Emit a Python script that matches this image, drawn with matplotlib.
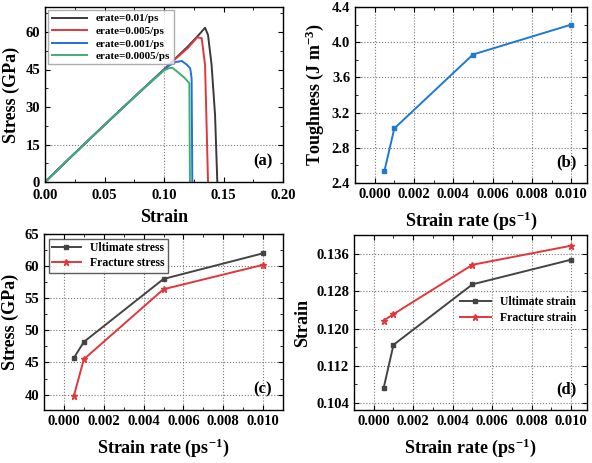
import matplotlib
matplotlib.use("Agg")
import matplotlib.pyplot as plt
from matplotlib.ticker import AutoMinorLocator

# -------------------------------
# Data
# -------------------------------
# (a) stress-strain curves
strain_001 = [0, 0.02, 0.04, 0.06, 0.08, 0.10, 0.11, 0.12, 0.128, 0.1345, 0.137, 0.140, 0.1429, 0.1448]
stress_001 = [0, 9.2, 18.3, 27.3, 36.2, 45.0, 49.6, 54.2, 58.2, 61.7, 58.8, 46.8, 26.8, 0]

strain_0005 = [0, 0.02, 0.04, 0.06, 0.08, 0.10, 0.11, 0.12, 0.128, 0.1317, 0.1345, 0.137]
stress_0005 = [0, 9.2, 18.3, 27.3, 36.2, 45.0, 49.4, 53.6, 57.9, 57.5, 46.8, 0]

strain_0001 = [0, 0.02, 0.04, 0.06, 0.08, 0.10, 0.105, 0.11, 0.115, 0.119, 0.122, 0.1232, 0.1238]
stress_0001 = [0, 9.2, 18.3, 27.3, 36.2, 44.9, 46.8, 48.0, 48.4, 47.0, 45.5, 41.5, 0]

strain_00005 = [0, 0.02, 0.04, 0.06, 0.08, 0.10, 0.104, 0.107, 0.112, 0.117, 0.1213, 0.1218]
stress_00005 = [0, 9.2, 18.3, 27.3, 36.2, 44.6, 45.5, 45.7, 43.8, 41.8, 39.5, 0]

# (b)-(d) vs strain rate
rates = [0.0005, 0.001, 0.005, 0.01]
toughness = [2.54, 3.02, 3.86, 4.20]
ultimate_stress = [45.7, 48.2, 58.0, 62.0]
fracture_stress = [39.8, 45.5, 56.4, 60.2]
ultimate_strain = [0.1072, 0.1165, 0.1295, 0.1348]
fracture_strain = [0.1217, 0.1231, 0.1337, 0.1378]

# -------------------------------
# Style
# -------------------------------
plt.rcParams["font.family"] = ["Liberation Serif", "DejaVu Serif"]
plt.rcParams["font.weight"] = "bold"
plt.rcParams["axes.labelweight"] = "bold"
plt.rcParams["mathtext.fontset"] = "custom"
plt.rcParams["mathtext.rm"] = "Liberation Serif:bold"
plt.rcParams["mathtext.default"] = "rm"

fig = plt.figure(figsize=(5.92, 4.63), dpi=100)
W, H = 592, 463


def make_ax(l, r, t, b):
    return fig.add_axes([l / W, 1 - b / H, (r - l) / W, (b - t) / H])


def style(ax):
    ax.tick_params(direction="in", which="both", top=True, right=True, labelsize=10.5)
    ax.tick_params(which="major", length=3.5)
    ax.tick_params(which="minor", length=2)
    ax.xaxis.set_minor_locator(AutoMinorLocator(2))
    ax.yaxis.set_minor_locator(AutoMinorLocator(2))
    for s in ax.spines.values():
        s.set_linewidth(1.0)


grid_kw = dict(color="#777777", linestyle=":", linewidth=0.8)
rate_label = "Strain rate (ps$^{-1}$)"

# -------------------------------
# (a) Stress-strain
# -------------------------------
ax1 = make_ax(45, 283, 7, 182)
ax1.axvline(0.10, zorder=0, **grid_kw)
ax1.axhline(15, zorder=0, **grid_kw)
ax1.plot(strain_001, stress_001, color="#3a3a3a", lw=1.4, label="erate=0.01/ps")
ax1.plot(strain_0005, stress_0005, color="#e0373d", lw=1.4, label="erate=0.005/ps")
ax1.plot(strain_0001, stress_0001, color="#2070dd", lw=1.4, label="erate=0.001/ps")
ax1.plot(strain_00005, stress_00005, color="#3fae72", lw=1.4, label="erate=0.0005/ps")
ax1.set_xlim(0, 0.2)
ax1.set_ylim(0, 70)
ax1.set_xticks([0, 0.05, 0.10, 0.15, 0.20])
ax1.set_xticklabels(["0.00", "0.05", "0.10", "0.15", "0.20"])
ax1.set_yticks([0, 15, 30, 45, 60])
style(ax1)
ax1.tick_params(axis="x", pad=5)
ax1.set_xlabel("Strain", fontsize=13, labelpad=5)
ax1.set_ylabel("Stress (GPa)", fontsize=13)
ax1.text(0.955, 0.07, "(a)", transform=ax1.transAxes, ha="right", va="bottom", fontsize=12, fontweight="bold")
ax1.legend(loc="upper left", handlelength=3.2, frameon=True, fancybox=False,
           edgecolor="#999999", borderpad=0.3, labelspacing=0.25, borderaxespad=0.3,
           prop={"family": "Liberation Serif", "weight": "bold", "size": 8})

# -------------------------------
# (b) Toughness
# -------------------------------
ax2 = make_ax(355, 587, 7, 183)
ax2.grid(True, **grid_kw)
ax2.plot(rates, toughness, color="#1f78d2", lw=1.4, marker="s", markersize=3.5)
ax2.set_xlim(-0.001, 0.0108)
ax2.set_ylim(2.4, 4.4)
ax2.set_xticks([0, 0.002, 0.004, 0.006, 0.008, 0.010])
ax2.set_xticklabels(["0.000", "0.002", "0.004", "0.006", "0.008", "0.010"])
ax2.set_yticks([2.4, 2.8, 3.2, 3.6, 4.0, 4.4])
style(ax2)
ax2.set_xlabel(rate_label, fontsize=13, labelpad=6)
ax2.set_ylabel("Toughness (J m$^{-3}$)", fontsize=13)
ax2.text(0.955, 0.07, "(b)", transform=ax2.transAxes, ha="right", va="bottom", fontsize=12, fontweight="bold")

# -------------------------------
# (c) Stress vs strain rate
# -------------------------------
ax3 = make_ax(44, 283, 234, 410)
ax3.grid(True, **grid_kw)
ax3.plot(rates, ultimate_stress, color="#444444", lw=1.4, marker="s", markersize=3.5, label="Ultimate stress")
ax3.plot(rates, fracture_stress, color="#e0373d", lw=1.4, marker="*", markersize=4.5, label="Fracture stress")
ax3.set_xlim(-0.001, 0.011)
ax3.set_ylim(37.6, 65)
ax3.set_xticks([0, 0.002, 0.004, 0.006, 0.008, 0.010])
ax3.set_xticklabels(["0.000", "0.002", "0.004", "0.006", "0.008", "0.010"])
ax3.set_yticks([40, 45, 50, 55, 60, 65])
style(ax3)
ax3.set_xlabel(rate_label, fontsize=13, labelpad=6)
ax3.set_ylabel("Stress (GPa)", fontsize=13)
ax3.text(0.955, 0.07, "(c)", transform=ax3.transAxes, ha="right", va="bottom", fontsize=12, fontweight="bold")
ax3.legend(loc="upper left", handlelength=2.4, frameon=True, fancybox=False, edgecolor="#333333",
           borderpad=0.3, labelspacing=0.25, borderaxespad=0.4,
           prop={"family": "Liberation Serif", "weight": "bold", "size": 8.5})

# -------------------------------
# (d) Strain vs strain rate
# -------------------------------
ax4 = make_ax(354, 587, 235, 410)
ax4.grid(True, **grid_kw)
ax4.plot(rates, ultimate_strain, color="#444444", lw=1.4, marker="s", markersize=3.5, label="Ultimate strain")
ax4.plot(rates, fracture_strain, color="#e0373d", lw=1.4, marker="*", markersize=4.5, label="Fracture strain")
ax4.set_xlim(-0.001, 0.0108)
ax4.set_ylim(0.1025, 0.1401)
ax4.set_xticks([0, 0.002, 0.004, 0.006, 0.008, 0.010])
ax4.set_xticklabels(["0.000", "0.002", "0.004", "0.006", "0.008", "0.010"])
ax4.set_yticks([0.104, 0.112, 0.120, 0.128, 0.136])
ax4.set_yticklabels(["0.104", "0.112", "0.120", "0.128", "0.136"])
style(ax4)
ax4.set_xlabel(rate_label, fontsize=13, labelpad=6)
ax4.set_ylabel("Strain", fontsize=13)
ax4.text(0.955, 0.07, "(d)", transform=ax4.transAxes, ha="right", va="bottom", fontsize=12, fontweight="bold")
ax4.legend(loc="center right", bbox_to_anchor=(1.0, 0.57), handlelength=2.6, frameon=False,
           labelspacing=0.3, prop={"family": "Liberation Serif", "weight": "bold", "size": 8.5})

plt.savefig("out.png", dpi=100)
